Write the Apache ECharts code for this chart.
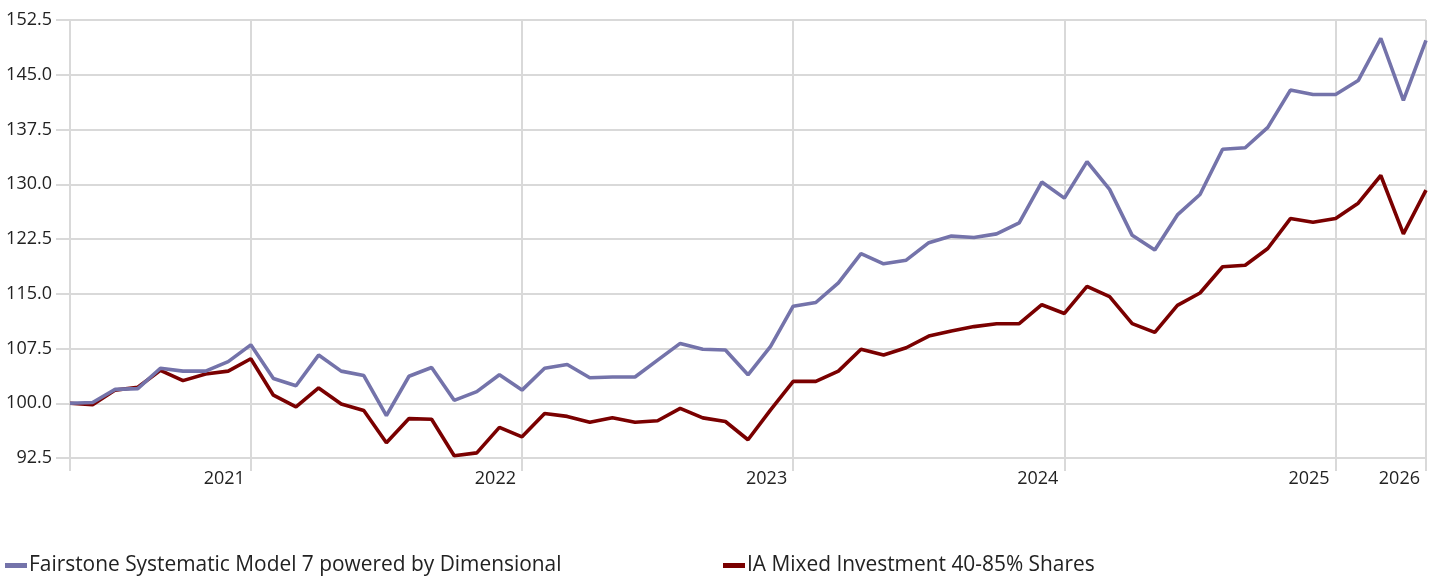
<!DOCTYPE html>
<html>
<head>
<meta charset="utf-8">
<script src="https://cdn.jsdelivr.net/npm/echarts@6/dist/echarts.min.js"></script>
<style>
  html, body { margin: 0; padding: 0; background: #fff; }
  #chart { width: 1435px; height: 577px; }
</style>
</head>
<body>
<div id="chart"></div>
<script>
// monthly points, May 2020 .. May 2025
var months = [
  '2020-05', '2020-06', '2020-07', '2020-08', '2020-09', '2020-10', '2020-11', '2020-12',
  '2021-01', '2021-02', '2021-03', '2021-04', '2021-05', '2021-06', '2021-07', '2021-08',
  '2021-09', '2021-10', '2021-11', '2021-12', '2022-01', '2022-02', '2022-03', '2022-04',
  '2022-05', '2022-06', '2022-07', '2022-08', '2022-09', '2022-10', '2022-11', '2022-12',
  '2023-01', '2023-02', '2023-03', '2023-04', '2023-05', '2023-06', '2023-07', '2023-08',
  '2023-09', '2023-10', '2023-11', '2023-12', '2024-01', '2024-02', '2024-03', '2024-04',
  '2024-05', '2024-06', '2024-07', '2024-08', '2024-09', '2024-10', '2024-11', '2024-12',
  '2025-01', '2025-02', '2025-03', '2025-04', '2025-05'
];

var fairstone = [
  100.0, 100.1, 101.9, 102.0, 104.8, 104.4, 104.4, 105.7, 108.0, 103.4,
  102.4, 106.6, 104.4, 103.8, 98.3, 103.7, 104.9, 100.4, 101.6, 103.9,
  101.8, 104.8, 105.3, 103.5, 103.6, 103.6, 105.9, 108.2, 107.4, 107.3,
  103.9, 107.8, 113.3, 113.8, 116.5, 120.5, 119.1, 119.6, 122.0, 122.9,
  122.7, 123.2, 124.7, 130.3, 128.1, 133.1, 129.3, 123.0, 121.0, 125.8,
  128.6, 134.8, 135.0, 137.8, 142.9, 142.3, 142.3, 144.2, 150.0, 141.5,
  149.7
];

var iaMixed = [
  100.0, 99.8, 101.8, 102.2, 104.5, 103.1, 104.0, 104.4, 106.1, 101.1,
  99.5, 102.1, 99.9, 99.0, 94.6, 97.9, 97.8, 92.8, 93.2, 96.7,
  95.4, 98.6, 98.2, 97.4, 98.0, 97.4, 97.6, 99.3, 98.0, 97.5,
  95.0, 99.1, 103.0, 103.0, 104.4, 107.4, 106.6, 107.6, 109.2, 109.9,
  110.5, 110.9, 110.9, 113.5, 112.3, 116.0, 114.6, 110.9, 109.7, 113.4,
  115.1, 118.7, 118.9, 121.2, 125.3, 124.8, 125.3, 127.4, 131.2, 123.2,
  129.2
];

// where the vertical lines and year labels go
var tickIndex = [0, 8, 20, 32, 44, 56, 60];
var tickLabel = ['', '2021', '2022', '2023', '2024', '2025', '2026'];

var seriesNames = [
  'Fairstone Systematic Model 7 powered by Dimensional',
  'IA Mixed Investment 40-85% Shares'
];

var font = '"Open Sans", "Noto Sans", sans-serif';
var gridColor = '#d9d9d9';

function isTick(idx) {
  return tickIndex.indexOf(idx) >= 0;
}

var chart = echarts.init(document.getElementById('chart'));
chart.setOption({
  animation: false,
  color: ['#7473aa', '#7a0000'],
  textStyle: { fontFamily: font },
  grid: { left: 70, right: 9, top: 20, bottom: 119 },
  legend: [
    {
      data: [seriesNames[0]],
      left: 0, top: 550,
      icon: 'rect', itemWidth: 22, itemHeight: 5,
      textStyle: { fontSize: 20.9, color: '#222', fontFamily: font, padding: [0, 0, 0, -3] }
    },
    {
      data: [seriesNames[1]],
      left: 718, top: 550,
      icon: 'rect', itemWidth: 22, itemHeight: 5,
      textStyle: { fontSize: 20.9, color: '#222', fontFamily: font, padding: [0, 0, 0, -3] }
    }
  ],
  xAxis: {
    type: 'category',
    data: months,
    boundaryGap: false,
    axisLine: { show: false },
    axisTick: {
      show: true, interval: function (idx) { return isTick(idx); },
      length: 13, lineStyle: { color: gridColor, width: 2 }
    },
    splitLine: {
      show: true, interval: function (idx) { return isTick(idx); },
      lineStyle: { color: gridColor, width: 2 }
    },
    axisLabel: {
      interval: function (idx) { return isTick(idx); },
      formatter: function (val, idx) { return tickLabel[tickIndex.indexOf(idx)] || ''; },
      align: 'right',
      padding: [0, 6, 0, 0],
      margin: 12,
      fontSize: 18,
      color: '#222',
      fontFamily: font
    }
  },
  yAxis: {
    type: 'value',
    min: 92.5,
    max: 152.5,
    interval: 7.5,
    axisLine: { show: false },
    axisTick: { show: true, length: 14, lineStyle: { color: gridColor, width: 2 } },
    splitLine: { lineStyle: { color: gridColor, width: 2 } },
    axisLabel: {
      formatter: function (v) { return v.toFixed(1); },
      margin: 18,
      fontSize: 18,
      color: '#222',
      fontFamily: font
    }
  },
  series: [
    {
      name: seriesNames[0], type: 'line', data: fairstone,
      symbol: 'none', lineStyle: { width: 3.6 }, z: 3
    },
    {
      name: seriesNames[1], type: 'line', data: iaMixed,
      symbol: 'none', lineStyle: { width: 3.6 }, z: 2
    }
  ]
});
</script>
</body>
</html>
